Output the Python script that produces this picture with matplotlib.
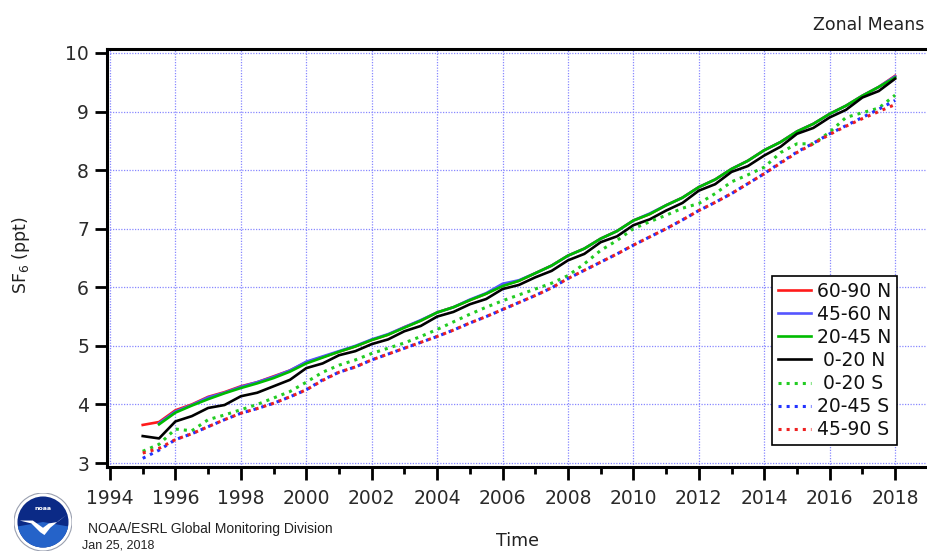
import numpy as np
import matplotlib
matplotlib.use('Agg')
import matplotlib.pyplot as plt
from matplotlib.patches import Circle, Wedge, Polygon

# half-year sampling, Jan / Jul
years = np.arange(1995.0, 2018.01, 0.5)

n60_90 = [3.65, 3.70, 3.90, 4.00, 4.13, 4.21, 4.31, 4.38, 4.48, 4.58,
          4.72, 4.81, 4.90, 4.99, 5.10, 5.19, 5.32, 5.43, 5.57, 5.66,
          5.78, 5.89, 6.03, 6.11, 6.24, 6.37, 6.54, 6.66, 6.83, 6.96,
          7.14, 7.25, 7.40, 7.53, 7.71, 7.84, 8.02, 8.16, 8.34, 8.48,
          8.66, 8.79, 8.96, 9.10, 9.27, 9.42, 9.61]
n45_60 = [np.nan, 3.68, 3.88, 3.99, 4.12, 4.20, 4.30, 4.38, 4.47, 4.58,
          4.73, 4.82, 4.91, 5.00, 5.11, 5.20, 5.32, 5.44, 5.57, 5.66,
          5.79, 5.90, 6.06, 6.12, 6.24, 6.37, 6.54, 6.66, 6.83, 6.96,
          7.14, 7.26, 7.40, 7.53, 7.71, 7.84, 8.02, 8.16, 8.34, 8.48,
          8.66, 8.79, 8.96, 9.10, 9.27, 9.42, 9.60]
n20_45 = [np.nan, 3.66, 3.86, 3.98, 4.09, 4.19, 4.28, 4.36, 4.45, 4.56,
          4.70, 4.80, 4.90, 4.99, 5.10, 5.19, 5.31, 5.43, 5.57, 5.66,
          5.78, 5.89, 6.02, 6.11, 6.24, 6.37, 6.54, 6.66, 6.83, 6.96,
          7.14, 7.25, 7.40, 7.53, 7.71, 7.84, 8.02, 8.16, 8.34, 8.48,
          8.66, 8.79, 8.96, 9.10, 9.27, 9.42, 9.58]
n0_20 = [3.46, 3.42, 3.71, 3.80, 3.94, 3.99, 4.14, 4.20, 4.31, 4.42,
         4.62, 4.70, 4.84, 4.91, 5.03, 5.11, 5.25, 5.34, 5.50, 5.58,
         5.71, 5.80, 5.97, 6.04, 6.17, 6.28, 6.46, 6.57, 6.77, 6.87,
         7.06, 7.16, 7.31, 7.44, 7.65, 7.76, 7.97, 8.07, 8.25, 8.40,
         8.62, 8.72, 8.90, 9.03, 9.24, 9.35, 9.56]
s0_20 = [3.20, 3.32, 3.58, 3.55, 3.74, 3.82, 3.91, 4.00, 4.11, 4.22,
         4.38, 4.55, 4.67, 4.76, 4.87, 4.96, 5.05, 5.16, 5.28, 5.41,
         5.54, 5.66, 5.77, 5.87, 5.97, 6.07, 6.20, 6.40, 6.63, 6.80,
         7.00, 7.12, 7.23, 7.35, 7.43, 7.60, 7.80, 7.92, 8.05, 8.30,
         8.45, 8.45, 8.65, 8.90, 8.98, 9.06, 9.28]
s20_45 = [3.08, 3.22, 3.40, 3.50, 3.62, 3.74, 3.85, 3.93, 4.02, 4.13,
          4.25, 4.42, 4.55, 4.64, 4.76, 4.86, 4.96, 5.06, 5.16, 5.27,
          5.39, 5.50, 5.62, 5.74, 5.86, 5.99, 6.15, 6.29, 6.43, 6.57,
          6.72, 6.86, 7.00, 7.15, 7.31, 7.45, 7.60, 7.77, 7.94, 8.13,
          8.31, 8.46, 8.62, 8.76, 8.90, 9.04, 9.19]
s45_90 = [3.17, 3.25, 3.40, 3.50, 3.62, 3.74, 3.85, 3.93, 4.02, 4.13,
          4.25, 4.41, 4.55, 4.64, 4.76, 4.86, 4.96, 5.06, 5.16, 5.27,
          5.39, 5.50, 5.62, 5.74, 5.86, 5.99, 6.15, 6.29, 6.43, 6.57,
          6.72, 6.86, 7.00, 7.15, 7.31, 7.45, 7.60, 7.77, 7.94, 8.12,
          8.30, 8.45, 8.61, 8.75, 8.88, 9.00, 9.12]

series = [
    ('60-90 N', n60_90, '#ff1a1a', '-'),
    ('45-60 N', n45_60, '#5555ff', '-'),
    ('20-45 N', n20_45, '#00bb00', '-'),
    (' 0-20 N', n0_20, '#000000', '-'),
    (' 0-20 S', s0_20, '#22cc22', ':'),
    ('20-45 S', s20_45, '#2233ff', ':'),
    ('45-90 S', s45_90, '#ee2020', ':'),
]

fig = plt.figure(figsize=(9.27, 5.51), dpi=100)
ax = fig.add_axes([107/927, 84/551, 828/927, 418/551])

for label, vals, color, ls in series:
    lw = 1.9 if ls == '-' else 2.2
    ax.plot(years, vals, color=color, ls=ls, lw=lw, label=label)

ax.set_xlim(1993.908, 2019.22)
ax.set_ylim(2.932, 10.068)
ax.set_xticks(np.arange(1994, 2019, 2))
ax.set_xticks(np.arange(1995, 2019, 2), minor=True)
ax.set_yticks(np.arange(3, 11, 1))

ax.grid(True, which='major', color='#8888ff', ls=(0, (1, 1.2)), lw=0.9)
ax.set_axisbelow(True)

for side in ('left', 'top', 'bottom'):
    ax.spines[side].set_linewidth(2.2)
ax.spines['right'].set_visible(False)

ax.tick_params(axis='both', which='major', direction='out', length=9,
               width=2, labelsize=13.5, labelcolor='#2a2a2a')
ax.tick_params(axis='x', which='major', pad=7)
ax.tick_params(axis='x', which='minor', direction='out', length=5, width=2)
ax.tick_params(axis='y', pad=4)

leg = ax.legend(loc='upper left', bbox_to_anchor=(772/927, 1 - 276/551),
                bbox_transform=fig.transFigure, borderaxespad=0,
                fontsize=13.5, frameon=True, fancybox=False, framealpha=1,
                edgecolor='black', handlelength=1.8, handletextpad=0.3,
                labelspacing=0.22, borderpad=0.3)
leg.get_frame().set_linewidth(1.2)
for t in leg.get_texts():
    t.set_color('#111111')

fig.text(0.997, 1 - 25/551, 'Zonal Means', ha='right', va='center',
         fontsize=12.5, color='#222222')
fig.text(21/927, 1 - 255/551, 'SF$_6$ (ppt)', rotation=90, ha='center',
         va='center', fontsize=12.5, color='#222222')
fig.text(517/927, 1 - 541/551, 'Time', ha='center', va='center',
         fontsize=12.5, color='#222222')
fig.text(88/927, 1 - 529/551, 'NOAA/ESRL Global Monitoring Division',
         ha='left', va='center', fontsize=10, family='Liberation Sans',
         color='#222222')
fig.text(82/927, 1 - 546/551, 'Jan 25, 2018', ha='left', va='center',
         fontsize=9, family='Liberation Sans', color='#222222')

# NOAA emblem
lax = fig.add_axes([14/927, 0, 58/927, 58/551])
lax.set_xlim(-1, 1)
lax.set_ylim(-1, 1)
lax.set_aspect('equal')
lax.axis('off')
lax.add_patch(Circle((0, 0), 1.0, fc='white', ec='#9aa0b0', lw=0.8))
lax.add_patch(Circle((0, 0), 0.88, fc='#0b2a86', ec='none'))
lax.add_patch(Wedge((0, 0), 0.88, 190, 350, fc='#2563c9', ec='none'))
lax.add_patch(Polygon([(-0.8, 0.05), (-0.4, -0.05), (-0.1, -0.35),
                       (0.05, -0.45), (0.25, -0.2), (0.55, 0.05),
                       (0.82, 0.25), (0.5, 0.0), (0.2, -0.05),
                       (0.0, -0.2), (-0.35, 0.05)],
                      fc='white', ec='none'))
lax.text(0, 0.45, 'noaa', color='white', ha='center', va='center',
         fontsize=4.5, fontweight='bold')

fig.savefig('out.png', dpi=100)
